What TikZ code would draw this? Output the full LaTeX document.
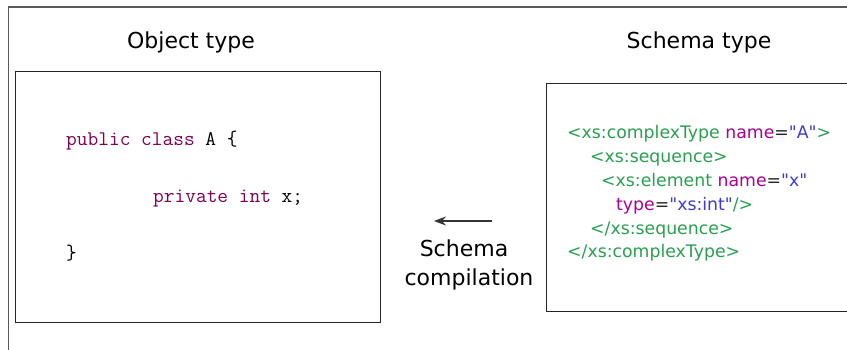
\documentclass[tikz,border=0pt]{standalone}
\usepackage{fontspec}
\setmainfont{DejaVu Sans}
\usetikzlibrary{arrows.meta, positioning}
\definecolor{kwpurple}{RGB}{127,0,85}
\definecolor{xmlgreen}{RGB}{40,160,80}
\definecolor{xmlattr}{RGB}{170,0,150}
\definecolor{xmlval}{RGB}{60,60,205}
\newcommand{\kw}[1]{\textcolor{kwpurple}{#1}}
\newcommand{\attr}[1]{\textcolor{xmlattr}{#1}\textcolor{black!85}{=}}
\newcommand{\val}[1]{\textcolor{xmlval}{\textquotedbl#1\textquotedbl}}

\begin{document}
\begin{tikzpicture}[x=1pt, y=-1pt,
  title/.style={font=\fontsize{22}{26}\selectfont, anchor=base, inner sep=0pt},
  javaline/.style={font=\fontsize{20.8}{24}\selectfont\ttfamily, anchor=base west, inner sep=0pt},
  xmlline/.style={font=\fontsize{17.3}{20}\selectfont, anchor=base west, inner sep=0pt, text=xmlgreen},
  codebox/.style={draw=black!85, line width=1.1pt, anchor=north west, inner sep=0pt}]
\clip (0,0) rectangle (847,350);
\fill[white] (0,0) rectangle (847,350);
% outer frame, cut by the picture edge
\draw[black!65, line width=1.3pt] (8.5,360) -- (8.5,7) -- (860,7);

% the two boxes
\node[codebox, minimum width=365pt, minimum height=251pt] (objbox) at (15,71) {};
\node[codebox, minimum width=320pt, minimum height=228pt] (xsdbox) at (546,83) {};

\node[title] (objtitle) at (191,49) {Object type};
\node[title] (xsdtitle) at (699,49) {Schema type};

% Java class
\node[javaline] (java1) at (66,146) {\kw{public class} A \{};
\node[javaline] (java2) at (153,203) {\kw{private int} x;};
\node[javaline] (java3) at (66,259) {\}};

% XML schema
\node[xmlline] (xsd1) at (567,139) {<xs:complexType \attr{name}\val{A}>};
\node[xmlline] (xsd2) at (590,163) {<xs:sequence>};
\node[xmlline] (xsd3) at (601,187) {<xs:element \attr{name}\val{x}};
\node[xmlline] (xsd4) at (616,211) {\attr{type}\val{xs:int}/>};
\node[xmlline] (xsd5) at (590,235) {</xs:sequence>};
\node[xmlline] (xsd6) at (567,258) {</xs:complexType>};

% compilation arrow
\coordinate (arrowstart) at (492,221);
\coordinate (arrowend) at (434,221);
\draw[-{Stealth[length=12pt, width=9pt]}, line width=1.2pt, black!80] (arrowstart) -- (arrowend);
\node[title] (compile1) at (464,257) {Schema};
\node[title] (compile2) at (469,285) {compilation};
\end{tikzpicture}
\end{document}
